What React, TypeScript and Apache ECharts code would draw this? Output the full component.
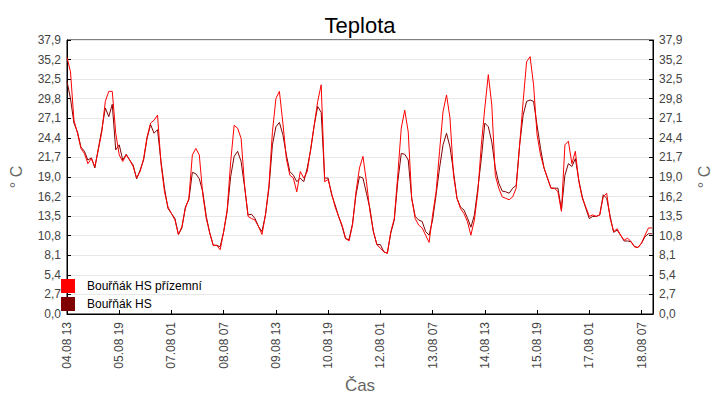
import React, { useEffect, useRef } from "react";
import * as echarts from "echarts";

// Hours from 04.08 13:00, one reading every 2 hours
const STEP_HOURS = 2;

const PRIZEMNI = [
  35.5, 33.5, 26.8, 25.0, 22.9, 22.2, 20.8, 21.5, 20.4, 22.7,
  25.2, 29.4, 30.8, 30.8, 25.0, 22.0, 21.1, 22.0, 21.3, 20.4,
  18.8, 19.7, 21.5, 24.5, 26.4, 26.8, 27.5, 20.8, 16.9, 14.8,
  13.9, 13.0, 11.0, 12.1, 14.6, 16.0, 22.0, 22.9, 22.0, 16.5,
  13.2, 11.2, 9.5, 9.5, 8.9, 11.4, 14.4, 21.0, 26.1, 25.7,
  24.3, 17.8, 13.5, 13.2, 13.0, 12.1, 11.0, 13.7, 17.8, 25.2,
  29.8, 30.8, 26.4, 21.5, 19.2, 18.8, 16.9, 19.7, 18.8, 19.7,
  22.9, 26.1, 29.4, 31.7, 18.3, 18.6, 16.7, 14.8, 13.5, 12.3,
  10.5, 10.1, 12.3, 16.9, 20.2, 21.8, 18.3, 14.2, 11.4, 9.6,
  9.1, 8.6, 8.4, 11.4, 13.2, 19.2, 25.7, 28.2, 25.2, 16.0,
  13.2, 12.3, 11.9, 10.9, 9.9, 13.7, 16.9, 22.5, 28.0, 30.3,
  27.1, 19.2, 16.0, 14.6, 13.9, 12.8, 10.9, 13.0, 16.9, 23.4,
  28.5, 33.1, 28.9, 19.2, 17.4, 16.2, 16.0, 15.8, 16.2, 17.4,
  23.4, 29.4, 34.9, 35.6, 31.7, 24.8, 22.0, 20.2, 18.8, 17.4,
  17.4, 16.9, 14.2, 23.4, 23.9, 20.8, 22.5, 18.3, 16.0, 14.8,
  13.5, 13.7, 13.5, 13.7, 16.2, 16.7, 13.2, 11.4, 11.8, 10.9,
  10.2, 10.5, 10.0, 9.3, 9.2, 9.8, 10.9, 11.9, 11.9,
];

const HS = [
  32.2, 29.8, 26.4, 25.2, 23.1, 22.5, 21.3, 21.6, 20.2, 22.9,
  25.5, 28.5, 27.3, 29.0, 22.7, 23.4, 21.3, 22.1, 21.3, 20.6,
  18.7, 19.9, 21.3, 24.3, 26.2, 25.0, 25.5, 21.1, 17.4, 14.6,
  13.9, 13.2, 11.0, 11.9, 14.8, 15.8, 19.6, 19.4, 18.7, 16.9,
  13.5, 11.2, 9.5, 9.5, 9.3, 11.4, 14.2, 19.0, 21.8, 22.5,
  21.1, 17.6, 13.7, 13.8, 13.2, 12.1, 11.4, 13.7, 17.4, 23.4,
  25.9, 26.5, 24.8, 22.0, 19.7, 19.2, 18.3, 18.8, 18.3, 20.2,
  22.7, 26.1, 28.7, 27.9, 18.8, 18.8, 16.5, 15.1, 13.5, 12.1,
  10.4, 10.3, 12.5, 16.5, 19.0, 18.8, 16.7, 14.6, 11.4, 9.6,
  9.6, 8.6, 8.4, 11.2, 13.0, 18.3, 22.2, 22.1, 21.3, 16.0,
  13.5, 13.0, 12.8, 11.4, 10.9, 13.0, 16.5, 20.2, 23.4, 25.0,
  23.1, 19.7, 16.0, 14.8, 14.4, 13.3, 12.0, 13.7, 17.4, 21.5,
  26.4, 25.9, 23.8, 20.2, 18.1, 17.0, 16.9, 16.7, 17.4, 17.8,
  23.4, 27.5, 29.4, 29.6, 29.4, 26.1, 22.9, 20.2, 18.8, 17.4,
  17.4, 17.4, 14.4, 19.2, 20.8, 20.4, 21.5, 18.5, 16.2, 14.6,
  13.2, 13.5, 13.5, 13.7, 16.5, 16.0, 13.5, 11.3, 11.6, 10.9,
  10.1, 10.1, 10.0, 9.3, 9.2, 9.8, 10.7, 11.1, 11.1,
];

const X_TICK_LABELS = [
  "04.08 13", "05.08 19", "07.08 01", "08.08 07", "09.08 13", "10.08 19",
  "12.08 01", "13.08 07", "14.08 13", "15.08 19", "17.08 01", "18.08 07",
];
const X_TICK_HOURS = 30;
const X_MAX_HOURS = 336.6;

const Y_TICK_LABELS = [
  "0,0", "2,7", "5,4", "8,1", "10,8", "13,5", "16,2", "19,0",
  "21,7", "24,4", "27,1", "29,8", "32,5", "35,2", "37,9",
];
const Y_MAX = 37.9;

const NAME_PRIZEMNI = "Bouřňák HS přízemní";
const NAME_HS = "Bouřňák HS";

const FONT = "'Liberation Sans', Arial, sans-serif";

export default function App() {
  const ref = useRef<HTMLDivElement>(null);
  useEffect(() => {
    document.body.style.margin = "0";
    const chart = echarts.init(ref.current!, null, { renderer: "svg" });
    const yInterval = Y_MAX / (Y_TICK_LABELS.length - 1);
    const toPairs = (arr: number[]) => arr.map((v, i) => [i * STEP_HOURS, v]);
    const xFmt = (v: number) => {
      const k = Math.round(v / X_TICK_HOURS);
      return Math.abs(v - k * X_TICK_HOURS) < 1e-6 && k < X_TICK_LABELS.length ? X_TICK_LABELS[k] : "";
    };
    const yFmt = (v: number) => {
      const k = Math.round(v / yInterval);
      return Y_TICK_LABELS[k] ?? "";
    };
    const yAxisBase = {
      type: "value",
      min: 0,
      max: Y_MAX,
      interval: yInterval,
      name: "° C",
      nameLocation: "middle",
      nameRotate: 90,
      nameGap: 43,
      nameTextStyle: { color: "#666", fontSize: 16, fontFamily: FONT },
      axisLine: { show: true, lineStyle: { color: "#000", width: 1 } },
      axisTick: { show: true, inside: true, length: 4, lineStyle: { color: "#000" } },
      axisLabel: { color: "#444", fontSize: 12, fontFamily: FONT, formatter: yFmt, margin: 6 },
    };
    chart.setOption({
      animation: false,
      backgroundColor: "#fff",
      title: {
        text: "Teplota",
        left: "center",
        top: 9,
        textStyle: { color: "#000", fontSize: 22, fontWeight: "normal", fontFamily: FONT },
      },
      grid: {
        left: 55,
        right: 55,
        top: 40,
        bottom: 86,
        show: true,
        borderColor: "#000",
        borderWidth: 1,
        backgroundColor: "#fff",
      },
      legend: {
        orient: "vertical",
        left: 61,
        top: 279,
        padding: 0,
        itemWidth: 14,
        itemHeight: 14,
        itemGap: 4,
        icon: "rect",
        data: [NAME_PRIZEMNI, NAME_HS],
        textStyle: { color: "#000", fontSize: 12, fontFamily: FONT, padding: [0, 0, 0, 7] },
      },
      xAxis: {
        type: "value",
        min: 0,
        max: X_MAX_HOURS,
        interval: X_TICK_HOURS,
        name: "Čas",
        nameLocation: "middle",
        nameGap: 62,
        nameTextStyle: { color: "#666", fontSize: 17, fontFamily: FONT },
        splitLine: { show: false },
        axisLine: { show: true, lineStyle: { color: "#000", width: 1 } },
        axisTick: { show: true, inside: true, length: 4, lineStyle: { color: "#000" } },
        axisLabel: {
          rotate: 90,
          color: "#444",
          fontSize: 12,
          fontFamily: FONT,
          margin: 8,
          formatter: xFmt,
          showMaxLabel: false,
        },
      },
      yAxis: [
        {
          ...yAxisBase,
          position: "left",
          splitLine: { show: true, lineStyle: { color: "#e8e8e8", width: 1 } },
        },
        {
          ...yAxisBase,
          position: "right",
          splitLine: { show: false },
        },
      ],
      series: [
        {
          name: NAME_HS,
          type: "line",
          data: toPairs(HS),
          symbol: "none",
          color: "#800000",
          lineStyle: { width: 1, color: "#800000" },
          yAxisIndex: 0,
        },
        {
          name: NAME_PRIZEMNI,
          type: "line",
          data: toPairs(PRIZEMNI),
          symbol: "none",
          color: "#ff0000",
          lineStyle: { width: 1, color: "#ff0000" },
          yAxisIndex: 0,
        },
      ],
    });
    return () => chart.dispose();
  }, []);
  return (
    <div
      ref={ref}
      style={{ position: "absolute", left: 0, top: 0, width: 720, height: 400 }}
    />
  );
}
